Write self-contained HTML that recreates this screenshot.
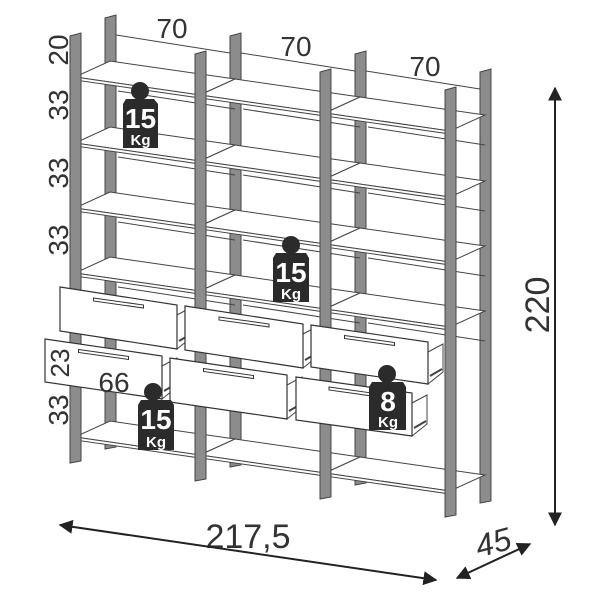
<!DOCTYPE html>
<html><head><meta charset="utf-8"><style>
html,body{margin:0;padding:0;background:#fff;width:600px;height:600px;overflow:hidden}
svg{display:block}
.t{font-family:"Liberation Sans",sans-serif;fill:#333}
.w{font-family:"Liberation Sans",sans-serif;fill:#fff;font-weight:bold;text-anchor:middle}
</style></head><body>
<svg id="s" width="600" height="600" viewBox="0 0 600 600" xmlns="http://www.w3.org/2000/svg">
<defs>
<marker id="ar" viewBox="0 0 10 10" refX="9" refY="5" markerWidth="7" markerHeight="7" orient="auto-start-reverse"><path d="M0,0 L10,5 L0,10 z" fill="#222"/></marker>
</defs>
<g id="g"></g>
<g id="tags">
<g><circle cx="140" cy="91" r="9" fill="#2b2b2b"/><path d="M126,99 L154,99 L158,104 L158,148 L123,148 L123,104 z" fill="#2b2b2b"/><text class="w" x="140.5" y="128" font-size="28">15</text><text class="w" x="140.5" y="145" font-size="15">Kg</text></g>
<g><circle cx="291" cy="245" r="9" fill="#2b2b2b"/><path d="M276,253 L306,253 L309,258 L309,302 L273,302 L273,258 z" fill="#2b2b2b"/><text class="w" x="291" y="282" font-size="28">15</text><text class="w" x="291" y="299" font-size="15">Kg</text></g>
<g><circle cx="153" cy="392" r="9" fill="#2b2b2b"/><path d="M141,400 L171,400 L174,405 L174,450 L138,450 L138,405 z" fill="#2b2b2b"/><text class="w" x="156" y="429" font-size="28">15</text><text class="w" x="156" y="447" font-size="15">Kg</text></g>
<g><circle cx="387" cy="374" r="9" fill="#2b2b2b"/><path d="M372,382 L403,382 L406,387 L406,430 L369,430 L369,387 z" fill="#2b2b2b"/><text class="w" x="388" y="411" font-size="28">8</text><text class="w" x="388" y="427" font-size="15">Kg</text></g>
</g>
<g>
<text class="t" x="172" y="38" font-size="28" text-anchor="middle">70</text>
<text class="t" x="296" y="56" font-size="28" text-anchor="middle">70</text>
<text class="t" x="425" y="76" font-size="28" text-anchor="middle">70</text>
<text class="t" font-size="28" text-anchor="middle" transform="translate(68,50) rotate(-90)">20</text>
<text class="t" font-size="28" text-anchor="middle" transform="translate(68,105) rotate(-90)">33</text>
<text class="t" font-size="28" text-anchor="middle" transform="translate(68,173) rotate(-90)">33</text>
<text class="t" font-size="28" text-anchor="middle" transform="translate(68,240) rotate(-90)">33</text>
<text class="t" font-size="28" text-anchor="middle" transform="translate(68,410) rotate(-90)">33</text>
<text class="t" font-size="26" text-anchor="middle" transform="translate(69,363) rotate(-90)">23</text>
<text class="t" x="114" y="392" font-size="28" text-anchor="middle">66</text>
<text class="t" font-size="34" text-anchor="middle" transform="translate(549,305) rotate(-90)">220</text>
<text class="t" x="248" y="548" font-size="34" text-anchor="middle">217,5</text>
<text class="t" font-size="32" text-anchor="middle" font-style="italic" transform="translate(496,553) rotate(-15)">45</text>
<line x1="555" y1="88" x2="555" y2="525" stroke="#222" stroke-width="2" marker-start="url(#ar)" marker-end="url(#ar)"/>
<line x1="60" y1="525" x2="436" y2="580" stroke="#222" stroke-width="2" marker-start="url(#ar)" marker-end="url(#ar)"/>
<line x1="457" y1="578" x2="530" y2="544" stroke="#222" stroke-width="2" marker-start="url(#ar)" marker-end="url(#ar)"/>
</g>
</svg>
<script>
var g=document.getElementById('g'),NS='http://www.w3.org/2000/svg';
function el(t,a){var e=document.createElementNS(NS,t);for(var k in a)e.setAttribute(k,a[k]);g.appendChild(e);return e;}
function poly(p,f,s,w){return el('polygon',{points:p.map(function(q){return q.join(',')}).join(' '),fill:f,stroke:s||'#333','stroke-width':w||1});}
function line(a,b,c,d,w){el('line',{x1:a,y1:b,x2:c,y2:d,stroke:'#444','stroke-width':w||1});}
var D=18,BX=35,BY=-16;
function post(x,top,bot){poly([[x,top+3],[x+11,top],[x+11,bot-2],[x,bot]],'#8c8c8c','#444');}
for(var c=0;c<4;c++)post(105+125*c,15+18*c,449+18*c);
for(var c=0;c<3;c++){line(116+125*c,35+18*c,230+125*c,53+18*c);}
var L=[77,143,208,273,437];
for(var c=0;c<3;c++)for(var i=0;i<L.length;i++){
 var fl=[75+125*c,L[i]+D*c],fr=[200+125*c,L[i]+D*(c+1)];
 poly([fl,fr,[fr[0]+BX,fr[1]+BY],[fl[0]+BX,fl[1]+BY]],'#fff','#444');
 poly([fl,fr,[fr[0],fr[1]+3],[fl[0],fl[1]+3]],'#fff','#444');
 if(i<L.length-1) line(fl[0]+BX+8,fl[1]+BY+30,fr[0]+BX,fr[1]+BY+30);
}
for(var c=0;c<4;c++)post(70+125*c,33+18*c,463+18*c);
function drawer(tl,tr,h){
 poly([[tr[0],tr[1]+10],[tr[0]+15,tr[1]+2],[tr[0]+15,tr[1]+h-12],[tr[0],tr[1]+h]],'#fff','#444');
 line(tr[0]+2,tr[1]+h-8,tr[0]+14,tr[1]+h-15,2);
 poly([tl,tr,[tr[0],tr[1]+h],[tl[0],tl[1]+h]],'#fff','#333',1.2);
 var mx=(tl[0]+tr[0])/2,my=(tl[1]+tr[1])/2+6;
 poly([[mx-25,my-4],[mx+25,my+3],[mx+25,my+6],[mx-25,my-1]],'#fff','#333');
}
drawer([60,287],[177,305],44);
drawer([185,306],[303,324],44);
drawer([311,325],[428,342],42);
drawer([45,339],[162,356],43);
drawer([170,358],[287,375],44);
drawer([296,377],[412,393],43);
var s=document.getElementById('s');s.appendChild(document.getElementById('tags'));
</script>
</body></html>
